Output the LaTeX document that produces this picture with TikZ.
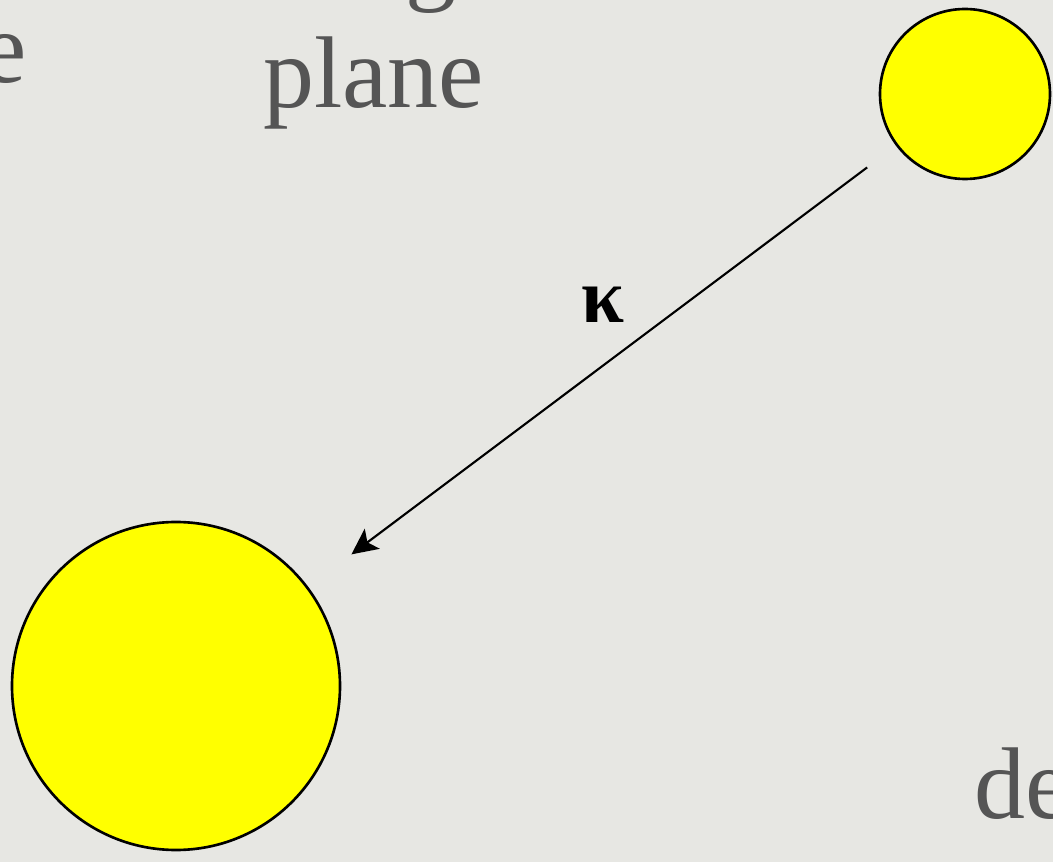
\documentclass[tikz,border=0pt]{standalone}
\usepackage{fontspec}
\setmainfont{Liberation Serif}
\usetikzlibrary{arrows.meta, positioning}
\definecolor{slidebg}{RGB}{231,231,227}
\definecolor{slidetext}{RGB}{85,85,85}
\definecolor{ballyellow}{RGB}{255,255,0}

\begin{document}
\begin{tikzpicture}[
    ball/.style={circle, draw=black, line width=1.5pt, fill=ballyellow, inner sep=0pt},
    word/.style={text=slidetext, font=\fontsize{58}{62}\selectfont, inner sep=0pt},
    arr/.style={-{Stealth[length=5.2mm, width=5mm, inset=1.2mm]}, line width=1.2pt, shorten <=0.72cm, shorten >=1.08cm}
]
\clip (0,0) rectangle (21.06,-17.24);
\fill[slidebg] (0,0) rectangle (21.06,-17.24);

\node[word, anchor=base east] (wleft) at (0.54,-1.66) {e};
\node[word, anchor=base west] (wtop) at (8.1,0.16) {g};
\node[word, anchor=base west] (plane) at (5.26,-2.16) {plane};
\node[word, anchor=base west] (wright) at (19.48,-16.36) {de};

\node[ball, minimum size=3.4cm] (small) at (19.3,-1.88) {};
\node[ball, minimum size=6.56cm] (big) at (3.52,-13.72) {};

\draw[arr] (small) -- node[pos=0.45, shift={(-0.58,0.78)}, font=\fontsize{44}{48}\selectfont\bfseries] {κ} (big);
\end{tikzpicture}
\end{document}
